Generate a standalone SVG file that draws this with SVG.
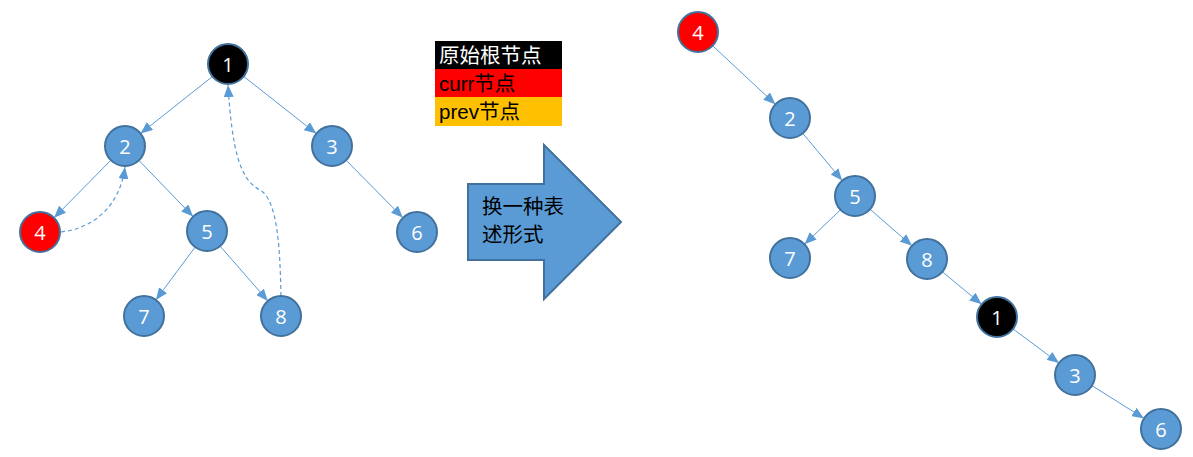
<svg xmlns="http://www.w3.org/2000/svg" width="1193" height="457" viewBox="0 0 1193 457">
<style>
.n{fill:#5B9BD5;stroke:#41719C;stroke-width:2}
.blk{fill:#000;stroke:#41719C;stroke-width:2}
.red{fill:#FF0000;stroke:#41719C;stroke-width:2}
.t{fill:#fff;font-family:"Open Sans","Liberation Sans",sans-serif;font-size:20px;text-anchor:middle;dominant-baseline:central}
.e{stroke:#5B9BD5;stroke-width:1;fill:none;marker-end:url(#ah)}
.d{stroke:#5B9BD5;stroke-width:1.2;fill:none;stroke-dasharray:4,3;marker-end:url(#ah)}
.lg{font-family:"Liberation Sans","Noto Sans CJK SC",sans-serif;font-size:20.5px}
</style>
<defs>
<marker id="ah" markerUnits="userSpaceOnUse" markerWidth="13" markerHeight="10" refX="12" refY="5" orient="auto">
<path d="M0,0 L12,5 L0,10 z" fill="#5B9BD5"/>
</marker>
</defs>
<g id="connectors">
<line class="e" x1="212.4" y1="76.5" x2="140.6" y2="133.5"/>
<line class="e" x1="243.7" y1="76.4" x2="316.3" y2="133.6"/>
<line class="e" x1="110.9" y1="160.2" x2="54.1" y2="217.8"/>
<line class="e" x1="138.9" y1="160.4" x2="193.1" y2="216.6"/>
<line class="e" x1="195.1" y1="247.1" x2="155.9" y2="299.9"/>
<line class="e" x1="220.1" y1="246.1" x2="267.9" y2="300.9"/>
<line class="e" x1="346.1" y1="160.2" x2="402.9" y2="217.8"/>
<path class="d" d="M61,232 C95,228 120,205 125,167"/>
<path class="d" d="M281,296 C280,250 278,200 260,190 C240,180 232,150 228,85"/>
<line class="e" x1="712.6" y1="45.7" x2="775.4" y2="104.3"/>
<line class="e" x1="802.8" y1="133.4" x2="842.2" y2="180.6"/>
<line class="e" x1="840.5" y1="209.8" x2="804.5" y2="244.2"/>
<line class="e" x1="870" y1="209.2" x2="912" y2="245.8"/>
<line class="e" x1="942.4" y1="271.8" x2="981.6" y2="304.2"/>
<line class="e" x1="1013" y1="328.9" x2="1059" y2="363.1"/>
<line class="e" x1="1091.9" y1="385.6" x2="1144.1" y2="418.4"/>
</g>
<g id="L1"><circle class="blk" cx="228" cy="64" r="20"/><text class="t" x="228" y="64">1</text></g>
<g id="L2"><circle class="n" cx="125" cy="146" r="20"/><text class="t" x="125" y="146">2</text></g>
<g id="L3"><circle class="n" cx="332" cy="146" r="20"/><text class="t" x="332" y="146">3</text></g>
<g id="L4"><circle class="red" cx="40" cy="232" r="20"/><text class="t" x="40" y="232">4</text></g>
<g id="L5"><circle class="n" cx="207" cy="231" r="20"/><text class="t" x="207" y="231">5</text></g>
<g id="L6"><circle class="n" cx="417" cy="232" r="20"/><text class="t" x="417" y="232">6</text></g>
<g id="L7"><circle class="n" cx="144" cy="316" r="20"/><text class="t" x="144" y="316">7</text></g>
<g id="L8"><circle class="n" cx="281" cy="316" r="20"/><text class="t" x="281" y="316">8</text></g>
<g id="legend">
<rect x="435" y="41" width="127" height="28" fill="#000"/>
<rect x="435" y="69" width="127" height="28" fill="#FF0000"/>
<rect x="435" y="97" width="127" height="29" fill="#FFC000"/>
<text class="lg" x="439" y="63" fill="#fff">原始根节点</text>
<text class="lg" x="439" y="91" fill="#000">curr节点</text>
<text class="lg" x="439" y="119" fill="#000">prev节点</text>
</g>
<g id="bigarrow">
<path d="M468,184 L544,184 L544,145 L621,222 L544,299 L544,260 L468,260 Z" fill="#5B9BD5" stroke="#41719C" stroke-width="2"/>
<text class="lg" x="482" y="214" fill="#000">换一种表</text>
<text class="lg" x="482" y="242" fill="#000">述形式</text>
</g>
<g id="R4"><circle class="red" cx="698" cy="32" r="20"/><text class="t" x="698" y="32">4</text></g>
<g id="R2"><circle class="n" cx="790" cy="118" r="20"/><text class="t" x="790" y="118">2</text></g>
<g id="R5"><circle class="n" cx="855" cy="196" r="20"/><text class="t" x="855" y="196">5</text></g>
<g id="R7"><circle class="n" cx="790" cy="258" r="20"/><text class="t" x="790" y="258">7</text></g>
<g id="R8"><circle class="n" cx="927" cy="259" r="20"/><text class="t" x="927" y="259">8</text></g>
<g id="R1"><circle class="blk" cx="997" cy="317" r="20"/><text class="t" x="997" y="317">1</text></g>
<g id="R3"><circle class="n" cx="1075" cy="375" r="20"/><text class="t" x="1075" y="375">3</text></g>
<g id="R6"><circle class="n" cx="1161" cy="429" r="20"/><text class="t" x="1161" y="429">6</text></g>
</svg>
